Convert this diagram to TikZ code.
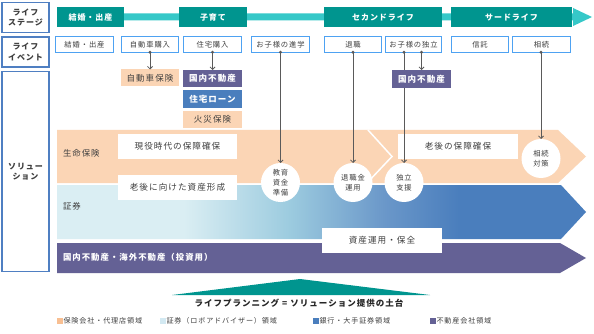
\documentclass[tikz,border=0pt]{standalone}
\usepackage{fontspec}
\setmainfont{Noto Sans CJK JP}[LetterSpace=12]
\usetikzlibrary{arrows.meta,calc}
\definecolor{teal1}{HTML}{00958F}
\definecolor{teal2}{HTML}{36C8C8}
\definecolor{lbord}{HTML}{4F7FC2}
\definecolor{ebord}{HTML}{4EA2F2}
\definecolor{peach}{HTML}{FBD5B5}
\definecolor{peachq}{HTML}{F8BF92}
\definecolor{purp}{HTML}{646195}
\definecolor{blu}{HTML}{4A7EBD}
\definecolor{lblu}{HTML}{DAEEF3}
\definecolor{lbluq}{HTML}{D3E9F2}
\definecolor{mblu}{HTML}{9CCBDF}
\definecolor{mblu2}{HTML}{6A97C9}
\definecolor{txt}{HTML}{3F3F3F}
\definecolor{conn}{HTML}{5A5A5A}
\pgfdeclarehorizontalshading{secshade}{100bp}{color(0bp)=(lblu); color(37bp)=(lblu); color(47bp)=(mblu); color(56bp)=(mblu2); color(63bp)=(blu); color(100bp)=(blu)}
\begin{document}
\begin{tikzpicture}[x=1pt,y=-1pt,
  every node/.style={inner sep=0pt, outer sep=0pt, text=txt},
  lbox/.style={draw=lbord, line width=1.6pt, fill=white, align=center, font=\fontsize{8}{10.5}\selectfont\bfseries, minimum width=47pt},
  stage/.style={fill=teal1, text=white, font=\fontsize{8}{9}\selectfont\bfseries, minimum height=20pt},
  evt/.style={draw=ebord, line width=1.4pt, fill=white, font=\fontsize{7.3}{8}\selectfont, minimum height=15.5pt, minimum width=57.5pt},
  sol/.style={font=\fontsize{8.5}{9}\selectfont, minimum width=58.5pt, minimum height=17pt},
  peachbox/.style={sol, fill=peach},
  purpbox/.style={sol, fill=purp, text=white, font=\fontsize{8.5}{9}\selectfont\bfseries},
  blubox/.style={sol, fill=blu, text=white, font=\fontsize{8.5}{9}\selectfont\bfseries},
  wbox/.style={fill=white, font=\fontsize{8.6}{9}\selectfont, minimum width=119pt, minimum height=24pt},
  circ/.style={circle, fill=white, minimum size=39pt, align=center, font=\fontsize{7.3}{10}\selectfont},
  link/.style={draw=conn, line width=0.8pt, -{Straight Barb[length=2.5pt,width=5pt]}},
  band/.style={font=\fontsize{8.4}{9}\selectfont, anchor=west},
  leg/.style={font=\fontsize{7.1}{8}\selectfont, anchor=west},
  legsq/.style={minimum size=6pt}
]
\useasboundingbox (0,0) rectangle (594,334);
\fill[white] (0,0) rectangle (594,334);

% left column
\node[lbox, minimum height=30pt] (lst) at (25.5,17.5) {ライフ\\ステージ};
\node[lbox, minimum height=30pt] (lev) at (25.5,52) {ライフ\\イベント};
\node[lbox, minimum height=200pt] (lsol) at (25.5,171.5) {ソリュー\\ション};

% stage bar
\fill[teal2] (57,13.5) -- (573,13.5) -- (573,8) -- (592,17) -- (573,26) -- (573,20.5) -- (57,20.5) -- cycle;
\node[stage, minimum width=67pt] (s1) at (90.5,17) {結婚・出産};
\node[stage, minimum width=68pt] (s2) at (213,17) {子育て};
\node[stage, minimum width=118pt] (s3) at (383,17) {セカンドライフ};
\node[stage, minimum width=121pt] (s4) at (511.5,17) {サードライフ};

% events
\node[evt] (e1) at (84.5,44.5) {結婚・出産};
\node[evt] (e2) at (150,44.5) {自動車購入};
\node[evt] (e3) at (212.5,44.5) {住宅購入};
\node[evt] (e4) at (280.5,44.5) {お子様の進学};
\node[evt] (e5) at (353,44.5) {退職};
\node[evt, minimum width=56pt] (e6) at (413.5,44.5) {お子様の独立};
\node[evt] (e7) at (480,44.5) {信託};
\node[evt] (e8) at (541.5,44.5) {相続};

% bands
\fill[peach] (57,130) -- (558,130) -- (586,156.5) -- (558,183) -- (57,183) -- cycle;
\shade[shading=secshade] (57,185) -- (561,185) -- (586,212) -- (561,239) -- (57,239) -- cycle;
\fill[purp] (57,243) -- (560,243) -- (586,258) -- (560,273) -- (57,273) -- cycle;
\draw[white, line width=1.5pt] (368,130) -- (392,156.5) -- (367,183);

\node[band] (lb1) at (63,153) {生命保険};
\node[band] (lb2) at (63,206) {証券};
\node[band, text=white, font=\fontsize{8.4}{9}\selectfont\bfseries] (lb3) at (63,257) {国内不動産・海外不動産（投資用）};

% white boxes
\node[wbox] (w1) at (177.5,146.5) {現役時代の保障確保};
\node[wbox, minimum height=25pt] (w2) at (177.5,187.5) {老後に向けた資産形成};
\node[wbox, minimum width=120pt, minimum height=25pt] (w3) at (458,146.5) {老後の保障確保};
\node[wbox, minimum width=120pt, minimum height=25pt] (w4) at (382,240.5) {資産運用・保全};

% solution boxes
\node[peachbox] (ins1) at (150,78) {自動車保険};
\node[purpbox] (re1) at (212.5,78.5) {国内不動産};
\node[blubox, minimum height=18pt] (loan) at (212.5,99) {住宅ローン};
\node[peachbox] (fire) at (212.5,119.5) {火災保険};
\node[purpbox, minimum height=18pt] (re2) at (421.5,79) {国内不動産};

% circles
\node[circ] (c1) at (280.5,182.5) {教育\\資金\\準備};
\node[circ] (c2) at (353,182.5) {退職金\\運用};
\node[circ] (c3) at (404,182.5) {独立\\支援};
\node[circ] (c4) at (541,158.5) {相続\\対策};

% connectors
\draw[link] (e2.south) -- (ins1.north);
\draw[link] (e3.south) -- (re1.north);
\draw[link] (c1 |- e4.south) -- (c1.north);
\draw[link] (c2 |- e5.south) -- (c2.north);
\draw[draw=conn, line width=0.8pt] (c3 |- e6.south) -- (c3 |- re2.north);
\draw[link] (c3 |- re2.south) -- (c3.north);
\draw[link] (re2.north |- e6.south) -- (re2.north);
\draw[link] (c4 |- e8.south) -- (c4.north);
\foreach \p in {(e2.south),(e3.south),(c1 |- e4.south),(c2 |- e5.south),(c3 |- e6.south),(re2.north |- e6.south),(c4 |- e8.south)}
  \fill[conn] \p circle (1.6pt);

% foundation
\fill[teal1] (172,295) -- (300,279) -- (430,295) -- cycle;
\node[font=\fontsize{8.5}{9}\selectfont\bfseries, text=black!85] (found) at (299,303.5) {ライフプランニング = ソリューション提供の土台};

% legend
\node[legsq, fill=peachq] (q1) at (59.5,321) {};
\node[leg] (t1) at (63.5,321) {保険会社・代理店領域};
\node[legsq, fill=lbluq] (q2) at (162.5,321) {};
\node[leg] (t2) at (166.5,321) {証券（ロボアドバイザー）領域};
\node[legsq, fill=blu] (q3) at (315.5,321) {};
\node[leg] (t3) at (319.5,321) {銀行・大手証券領域};
\node[legsq, fill=purp] (q4) at (432.5,321) {};
\node[leg] (t4) at (436.5,321) {不動産会社領域};
\end{tikzpicture}
\end{document}
